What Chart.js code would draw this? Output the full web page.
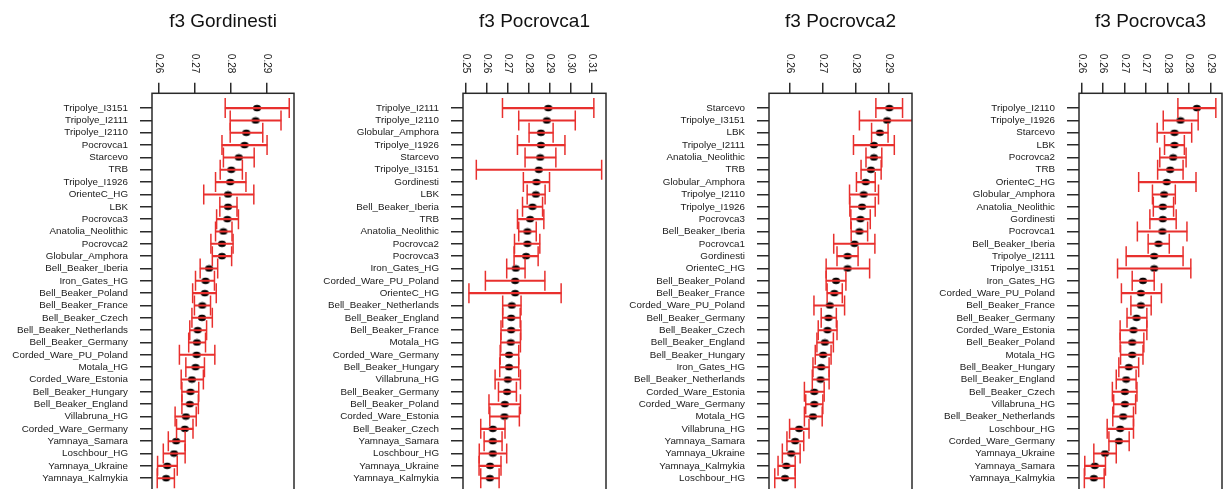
<!DOCTYPE html>
<html>
<head>
<meta charset="utf-8">
<script src="https://cdn.jsdelivr.net/npm/chart.js@4/dist/chart.umd.min.js"></script>
<style>
  html, body { margin: 0; padding: 0; background: #fff; overflow: hidden; width: 1229px; height: 489px; }
  canvas { position: absolute; top: 0; }
</style>
</head>
<body>
<canvas id="pGordinesti"></canvas>
<canvas id="pPocrovca1"></canvas>
<canvas id="pPocrovca2"></canvas>
<canvas id="pPocrovca3"></canvas>
<script>
// ---- f3 Gordinesti ----
const gordNames = ['Tripolye_I3151','Tripolye_I2111','Tripolye_I2110','Pocrovca1','Starcevo','TRB','Tripolye_I1926','OrienteC_HG','LBK','Pocrovca3','Anatolia_Neolithic','Pocrovca2','Globular_Amphora','Bell_Beaker_Iberia','Iron_Gates_HG','Bell_Beaker_Poland','Bell_Beaker_France','Bell_Beaker_Czech','Bell_Beaker_Netherlands','Bell_Beaker_Germany','Corded_Ware_PU_Poland','Motala_HG','Corded_Ware_Estonia','Bell_Beaker_Hungary','Bell_Beaker_England','Villabruna_HG','Corded_Ware_Germany','Yamnaya_Samara','Loschbour_HG','Yamnaya_Ukraine','Yamnaya_Kalmykia'];
const gordF3 = [0.2874,0.2870,0.2844,0.2839,0.2823,0.2802,0.2799,0.2793,0.2793,0.2791,0.2780,0.2776,0.2776,0.2740,0.2730,0.2728,0.2721,0.2720,0.2708,0.2706,0.2705,0.2702,0.2692,0.2688,0.2686,0.2675,0.2672,0.2648,0.2642,0.2623,0.2620];
const gordLo = [0.2785,0.2799,0.2799,0.2776,0.2780,0.2771,0.2758,0.2725,0.2770,0.2761,0.2758,0.2745,0.2749,0.2715,0.2702,0.2694,0.2699,0.2692,0.2686,0.2683,0.2657,0.2675,0.2662,0.2664,0.2664,0.2645,0.2649,0.2626,0.2612,0.2596,0.2595];
const gordHi = [0.2964,0.2941,0.2890,0.2902,0.2866,0.2833,0.2843,0.2865,0.2818,0.2822,0.2804,0.2807,0.2803,0.2764,0.2755,0.2760,0.2744,0.2749,0.2733,0.2730,0.2756,0.2727,0.2724,0.2711,0.2710,0.2704,0.2695,0.2673,0.2673,0.2651,0.2643];
const gordTicks = [0.26, 0.27, 0.28, 0.29];
const gordTickLabels = ['0.26', '0.27', '0.28', '0.29'];

// ---- f3 Pocrovca1 ----
const poc1Names = ['Tripolye_I2111','Tripolye_I2110','Globular_Amphora','Tripolye_I1926','Starcevo','Tripolye_I3151','Gordinesti','LBK','Bell_Beaker_Iberia','TRB','Anatolia_Neolithic','Pocrovca2','Pocrovca3','Iron_Gates_HG','Corded_Ware_PU_Poland','OrienteC_HG','Bell_Beaker_Netherlands','Bell_Beaker_England','Bell_Beaker_France','Motala_HG','Corded_Ware_Germany','Bell_Beaker_Hungary','Villabruna_HG','Bell_Beaker_Germany','Bell_Beaker_Poland','Corded_Ware_Estonia','Bell_Beaker_Czech','Yamnaya_Samara','Loschbour_HG','Yamnaya_Ukraine','Yamnaya_Kalmykia'];
const poc1F3 = [0.2893,0.2886,0.2858,0.2858,0.2855,0.2848,0.2837,0.2834,0.2818,0.2807,0.2794,0.2794,0.2788,0.2739,0.2736,0.2736,0.2720,0.2717,0.2717,0.2715,0.2707,0.2707,0.2701,0.2698,0.2687,0.2685,0.2630,0.2630,0.2630,0.2617,0.2616];
const poc1Lo = [0.2676,0.2753,0.2802,0.2747,0.2783,0.2552,0.2775,0.2793,0.2771,0.2747,0.2753,0.2733,0.2731,0.2696,0.2595,0.2517,0.2677,0.2677,0.2669,0.2668,0.2665,0.2663,0.2641,0.2657,0.2612,0.2616,0.2573,0.2589,0.2566,0.2565,0.2573];
const poc1Hi = [0.3109,0.3021,0.2916,0.2972,0.2929,0.3146,0.2899,0.2878,0.2866,0.2872,0.2836,0.2853,0.2845,0.2783,0.2877,0.2954,0.2764,0.2760,0.2763,0.2761,0.2753,0.2753,0.2761,0.2742,0.2761,0.2756,0.2688,0.2674,0.2696,0.2669,0.2660];
const poc1Ticks = [0.25, 0.26, 0.27, 0.28, 0.29, 0.30, 0.31];
const poc1TickLabels = ['0.25', '0.26', '0.27', '0.28', '0.29', '0.30', '0.31'];

// ---- f3 Pocrovca2 ----
const poc2Names = ['Starcevo','Tripolye_I3151','LBK','Tripolye_I2111','Anatolia_Neolithic','TRB','Globular_Amphora','Tripolye_I2110','Tripolye_I1926','Pocrovca3','Bell_Beaker_Iberia','Pocrovca1','Gordinesti','OrienteC_HG','Bell_Beaker_Poland','Bell_Beaker_France','Corded_Ware_PU_Poland','Bell_Beaker_Germany','Bell_Beaker_Czech','Bell_Beaker_England','Bell_Beaker_Hungary','Iron_Gates_HG','Bell_Beaker_Netherlands','Corded_Ware_Estonia','Corded_Ware_Germany','Motala_HG','Villabruna_HG','Yamnaya_Samara','Yamnaya_Ukraine','Yamnaya_Kalmykia','Loschbour_HG'];
const poc2F3 = [0.2901,0.2894,0.2872,0.2854,0.2854,0.2845,0.2829,0.2823,0.2818,0.2813,0.2810,0.2795,0.2774,0.2774,0.2739,0.2734,0.2720,0.2716,0.2713,0.2705,0.2700,0.2694,0.2692,0.2673,0.2673,0.2669,0.2627,0.2615,0.2603,0.2588,0.2584];
const poc2Lo = [0.2860,0.2810,0.2847,0.2792,0.2830,0.2815,0.2801,0.2780,0.2781,0.2784,0.2785,0.2732,0.2742,0.2709,0.2709,0.2712,0.2672,0.2694,0.2685,0.2681,0.2676,0.2669,0.2667,0.2643,0.2647,0.2643,0.2598,0.2590,0.2576,0.2563,0.2553];
const poc2Hi = [0.2941,0.2978,0.2897,0.2916,0.2878,0.2876,0.2858,0.2868,0.2858,0.2843,0.2835,0.2857,0.2806,0.2841,0.2769,0.2758,0.2765,0.2740,0.2742,0.2731,0.2724,0.2718,0.2718,0.2703,0.2699,0.2697,0.2657,0.2641,0.2630,0.2615,0.2615];
const poc2Ticks = [0.26, 0.27, 0.28, 0.29];
const poc2TickLabels = ['0.26', '0.27', '0.28', '0.29'];

// ---- f3 Pocrovca3 ----
const poc3Names = ['Tripolye_I2110','Tripolye_I1926','Starcevo','LBK','Pocrovca2','TRB','OrienteC_HG','Globular_Amphora','Anatolia_Neolithic','Gordinesti','Pocrovca1','Bell_Beaker_Iberia','Tripolye_I2111','Tripolye_I3151','Iron_Gates_HG','Corded_Ware_PU_Poland','Bell_Beaker_France','Bell_Beaker_Germany','Corded_Ware_Estonia','Bell_Beaker_Poland','Motala_HG','Bell_Beaker_Hungary','Bell_Beaker_England','Bell_Beaker_Czech','Villabruna_HG','Bell_Beaker_Netherlands','Loschbour_HG','Corded_Ware_Germany','Yamnaya_Ukraine','Yamnaya_Samara','Yamnaya_Kalmykia'];
const poc3F3 = [0.2868,0.2830,0.2816,0.2816,0.2813,0.2806,0.2798,0.2792,0.2789,0.2789,0.2788,0.2779,0.2769,0.2769,0.2743,0.2738,0.2738,0.2728,0.2721,0.2718,0.2718,0.2710,0.2704,0.2701,0.2701,0.2697,0.2690,0.2687,0.2655,0.2631,0.2629];
const poc3Lo = [0.2824,0.2790,0.2776,0.2793,0.2782,0.2777,0.2733,0.2765,0.2767,0.2759,0.2730,0.2755,0.2704,0.2684,0.2718,0.2693,0.2715,0.2706,0.2690,0.2690,0.2691,0.2687,0.2681,0.2672,0.2675,0.2673,0.2660,0.2664,0.2629,0.2608,0.2607];
const poc3Hi = [0.2912,0.2871,0.2856,0.2839,0.2843,0.2836,0.2866,0.2818,0.2814,0.2820,0.2845,0.2804,0.2836,0.2854,0.2769,0.2786,0.2762,0.2752,0.2752,0.2745,0.2743,0.2733,0.2727,0.2729,0.2726,0.2721,0.2721,0.2711,0.2681,0.2656,0.2653];
const poc3Ticks = [0.26, 0.265, 0.27, 0.275, 0.28, 0.285, 0.29];
const poc3TickLabels = ['0.26', '0.26', '0.27', '0.27', '0.28', '0.28', '0.29'];

// ---- styling & layout ----
const FONT = '"Liberation Sans", Arial, Helvetica, sans-serif';
const RED = 'rgb(232, 48, 46)';
const INK = '#1a1a1a';
const AXIS = '#2a2a2a';
const Y_AXIS_W = 150;     // room for the population names
const TOP_AXIS_H = 60.5;  // room for the rotated tick labels
const CANVAS_H = 493;

// black, slightly wide dot
function makeDot() {
  const c = document.createElement('canvas');
  c.width = 10; c.height = 8;
  const g = c.getContext('2d');
  g.fillStyle = '#000';
  g.beginPath();
  g.ellipse(5, 4, 4.0, 3.3, 0, 0, Math.PI * 2);
  g.fill();
  return c;
}
const dotImg = makeDot();

// closed frame around the plotting region
const framePlugin = {
  id: 'frame',
  afterDraw(chart) {
    const a = chart.chartArea, ctx = chart.ctx;
    ctx.save();
    ctx.strokeStyle = AXIS;
    ctx.lineWidth = 1.5;
    ctx.strokeRect(a.left, a.top, a.right - a.left, a.bottom - a.top);
    ctx.restore();
  }
};

// tick labels of the top axis, turned to read downwards
const topTickLabels = {
  id: 'topTickLabels',
  afterDraw(chart, args, opts) {
    const s = chart.scales.x, ctx = chart.ctx;
    ctx.save();
    ctx.font = '10px ' + FONT;
    ctx.fillStyle = INK;
    ctx.textAlign = 'right';
    ctx.textBaseline = 'middle';
    s.ticks.forEach((t, i) => {
      const px = s.getPixelForValue(t.value);
      ctx.save();
      ctx.translate(px, chart.chartArea.top - 20);
      ctx.rotate(Math.PI / 2);
      ctx.fillText(opts.labels[i], 0, 0);
      ctx.restore();
    });
    ctx.restore();
  }
};

const panels = [
  { id: 'pGordinesti', title: 'f3 Gordinesti', names: gordNames, f3: gordF3, lo: gordLo, hi: gordHi,
    ticks: gordTicks, tickLabels: gordTickLabels, xMin: 0.25804, xMax: 0.29773, boxLeft: 152.3, boxW: 142 },
  { id: 'pPocrovca1', title: 'f3 Pocrovca1', names: poc1Names, f3: poc1F3, lo: poc1Lo, hi: poc1Hi,
    ticks: poc1Ticks, tickLabels: poc1TickLabels, xMin: 0.24889, xMax: 0.31666, boxLeft: 463.3, boxW: 143 },
  { id: 'pPocrovca2', title: 'f3 Pocrovca2', names: poc2Names, f3: poc2F3, lo: poc2Lo, hi: poc2Hi,
    ticks: poc2Ticks, tickLabels: poc2TickLabels, xMin: 0.25355, xMax: 0.29697, boxLeft: 769.3, boxW: 143 },
  { id: 'pPocrovca3', title: 'f3 Pocrovca3', names: poc3Names, f3: poc3F3, lo: poc3Lo, hi: poc3Hi,
    ticks: poc3Ticks, tickLabels: poc3TickLabels, xMin: 0.25946, xMax: 0.29263, boxLeft: 1079, boxW: 143 }
];

panels.forEach(p => {
  const canvas = document.getElementById(p.id);
  const w = Y_AXIS_W + p.boxW + 3;
  canvas.width = w;
  canvas.height = CANVAS_H;
  canvas.style.width = w + 'px';
  canvas.style.height = CANVAS_H + 'px';
  canvas.style.left = (p.boxLeft - Y_AXIS_W) + 'px';

  const n = p.names.length;
  const rows = p.names.map((_, i) => i);
  const spans = rows.map(i => ({ y: i, x: [p.lo[i], p.hi[i]] }));
  const caps = rows.flatMap(i => [{ x: p.lo[i], y: i }, { x: p.hi[i], y: i }]);
  const dots = rows.map(i => ({ x: p.f3[i], y: i }));
  const pad = (n - 1) * 0.04;

  new Chart(canvas, {
    type: 'bar',
    data: {
      datasets: [
        { type: 'bar', data: spans, backgroundColor: RED, borderWidth: 0, barThickness: 1.4, order: 0 },
        { type: 'scatter', data: caps, pointStyle: 'line', pointRotation: 90, pointRadius: 10,
          pointBorderColor: RED, pointBorderWidth: 1.5, order: 1 },
        { type: 'scatter', data: dots, pointStyle: dotImg, pointRadius: 4, order: 2 }
      ]
    },
    options: {
      indexAxis: 'y',
      responsive: false,
      animation: false,
      events: [],
      layout: { autoPadding: false, padding: { left: 0, right: 3, top: 0, bottom: 0 } },
      plugins: {
        legend: { display: false },
        tooltip: { enabled: false },
        title: {
          display: true, text: p.title, fullSize: false, color: '#111',
          font: { family: FONT, size: 19, weight: 'normal' },
          padding: { top: 10, bottom: 0 }
        },
        topTickLabels: { labels: p.tickLabels }
      },
      scales: {
        x: {
          type: 'linear', position: 'top', min: p.xMin, max: p.xMax, offset: false,
          afterBuildTicks: s => { s.ticks = p.ticks.map(v => ({ value: v })); },
          afterFit: s => { s.height = TOP_AXIS_H; s.paddingLeft = 0; s.paddingRight = 0; },
          ticks: { display: false },
          grid: { display: true, offset: false, drawOnChartArea: false, drawTicks: true, tickLength: 10.5, color: AXIS, lineWidth: 1.5 },
          border: { display: false }
        },
        y: {
          type: 'linear', position: 'left', reverse: true, min: -pad, max: n - 1 + pad, offset: false,
          afterBuildTicks: s => { s.ticks = rows.map(v => ({ value: v })); },
          afterFit: s => { s.width = Y_AXIS_W; s.paddingTop = 0; s.paddingBottom = 0; },
          ticks: {
            autoSkip: false, padding: 12, color: INK,
            font: { family: FONT, size: 9.8 },
            callback: v => p.names[v]
          },
          grid: { display: true, offset: false, drawOnChartArea: false, drawTicks: true, tickLength: 12, color: AXIS, lineWidth: 1.5 },
          border: { display: false }
        }
      }
    },
    plugins: [framePlugin, topTickLabels]
  });
});
</script>
</body>
</html>
